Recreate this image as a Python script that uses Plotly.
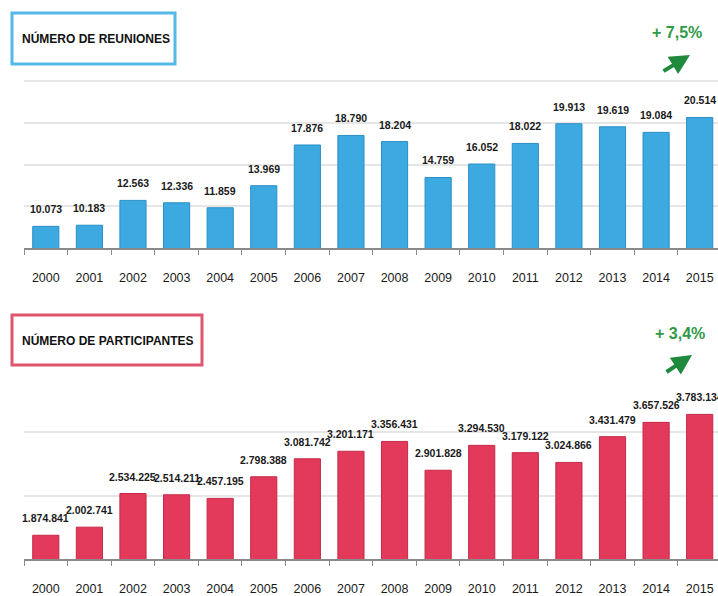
import plotly.graph_objects as go

years = [str(y) for y in range(2000, 2016)]
reuniones = [10073, 10183, 12563, 12336, 11859, 13969, 17876, 18790, 18204,
             14759, 16052, 18022, 19913, 19619, 19084, 20514]
participantes = [1874841, 2002741, 2534225, 2514211, 2457195, 2798388, 3081742,
                 3201171, 3356431, 2901828, 3294530, 3179122, 3024866, 3431479,
                 3657526, 3783134]
title_top = "NÚMERO DE REUNIONES"
title_bottom = "NÚMERO DE PARTICIPANTES"
growth_top = "+ 7,5%"
growth_bottom = "+ 3,4%"

W, H = 718, 596
FONT = "Liberation Sans, Arial, sans-serif"
BLUE = "#3caae0"
BLUE_EDGE = "#2a8fc6"
RED = "#e33a5c"
RED_EDGE = "#c42a48"
GREEN = "#2f9a48"
ARROW = "#1f8a3c"


def px(x):
    return x / W


def py(y):
    return 1 - y / H


def fmt(v):
    return f"{v:,}".replace(",", ".")


fig = go.Figure()
fig.add_trace(go.Bar(x=years, y=reuniones, xaxis="x", yaxis="y",
                     marker=dict(color=BLUE, line=dict(color=BLUE_EDGE, width=1)),
                     showlegend=False, hoverinfo="x+y"))
fig.add_trace(go.Bar(x=years, y=participantes, xaxis="x2", yaxis="y2",
                     marker=dict(color=RED, line=dict(color=RED_EDGE, width=1)),
                     showlegend=False, hoverinfo="x+y"))

label_font = dict(family=FONT, size=10.5, color="#1a1a1a", weight="bold")
annotations = []
for i, v in enumerate(reuniones):
    annotations.append(dict(x=i, y=v, xref="x", yref="y", text=fmt(v),
                            showarrow=False, yanchor="bottom", yshift=9,
                            font=label_font))
for i, v in enumerate(participantes):
    annotations.append(dict(x=i, y=v, xref="x2", yref="y2", text=fmt(v),
                            showarrow=False, yanchor="bottom", yshift=9,
                            font=label_font))

# titles
annotations.append(dict(x=px(20), y=py(39), xref="paper", yref="paper", text=title_top,
                        showarrow=False, xanchor="left", yanchor="middle",
                        font=dict(family=FONT, size=12, color="#111", weight="bold")))
annotations.append(dict(x=px(20), y=py(340), xref="paper", yref="paper", text=title_bottom,
                        showarrow=False, xanchor="left", yanchor="middle",
                        font=dict(family=FONT, size=12, color="#111", weight="bold")))
# growth labels
annotations.append(dict(x=px(677), y=py(33), xref="paper", yref="paper", text=growth_top,
                        showarrow=False, xanchor="center", yanchor="middle",
                        font=dict(family=FONT, size=16, color=GREEN, weight="bold")))
annotations.append(dict(x=px(680), y=py(333), xref="paper", yref="paper", text=growth_bottom,
                        showarrow=False, xanchor="center", yanchor="middle",
                        font=dict(family=FONT, size=16, color=GREEN, weight="bold")))
# arrows
annotations.append(dict(x=px(690), y=py(55), xref="paper", yref="paper", text="",
                        showarrow=True, ax=-28, ay=17, arrowhead=2, arrowsize=1,
                        arrowwidth=4, arrowcolor=ARROW))
annotations.append(dict(x=px(692), y=py(355), xref="paper", yref="paper", text="",
                        showarrow=True, ax=-27, ay=18, arrowhead=2, arrowsize=1,
                        arrowwidth=4, arrowcolor=ARROW))

shapes = [
    dict(type="rect", xref="paper", yref="paper", x0=px(12), x1=px(175), y0=py(64), y1=py(13),
         line=dict(color="#55b9e8", width=3), fillcolor="rgba(0,0,0,0)", layer="above"),
    dict(type="rect", xref="paper", yref="paper", x0=px(12), x1=px(202), y0=py(365), y1=py(315),
         line=dict(color="#e0566f", width=3), fillcolor="rgba(0,0,0,0)", layer="above"),
]

xaxis_common = dict(type="category", range=[-0.5, 15.42], domain=[px(24), 1],
                    showline=True, linecolor="#8a8a8a", linewidth=1.5,
                    ticks="outside", tickson="boundaries", ticklen=5, tickcolor="#8a8a8a",
                    ticklabelstandoff=17, showgrid=False,
                    tickfont=dict(family=FONT, size=12.5, color="#1a1a1a"))

fig.update_layout(
    width=W, height=H,
    margin=dict(l=0, r=0, t=0, b=0),
    paper_bgcolor="white", plot_bgcolor="white",
    bargap=0.4,
    xaxis=dict(**xaxis_common, anchor="y"),
    yaxis=dict(domain=[py(248), py(79)], range=[8000, 24200],
               tickvals=[12000, 16000, 20000, 24000], showticklabels=False,
               showgrid=True, gridcolor="#e6e6e6", gridwidth=1.5, zeroline=False,
               anchor="x"),
    xaxis2=dict(**xaxis_common, anchor="y2"),
    yaxis2=dict(domain=[py(559), py(369)], range=[1500000, 4500000],
                tickvals=[2500000, 3500000], showticklabels=False,
                showgrid=True, gridcolor="#e6e6e6", gridwidth=1.5, zeroline=False,
                anchor="x2"),
    annotations=annotations,
    shapes=shapes,
)

fig.write_html("out.html", config={"displayModeBar": False},
               post_script="document.body.style.margin='0';document.body.style.overflow='hidden';")
